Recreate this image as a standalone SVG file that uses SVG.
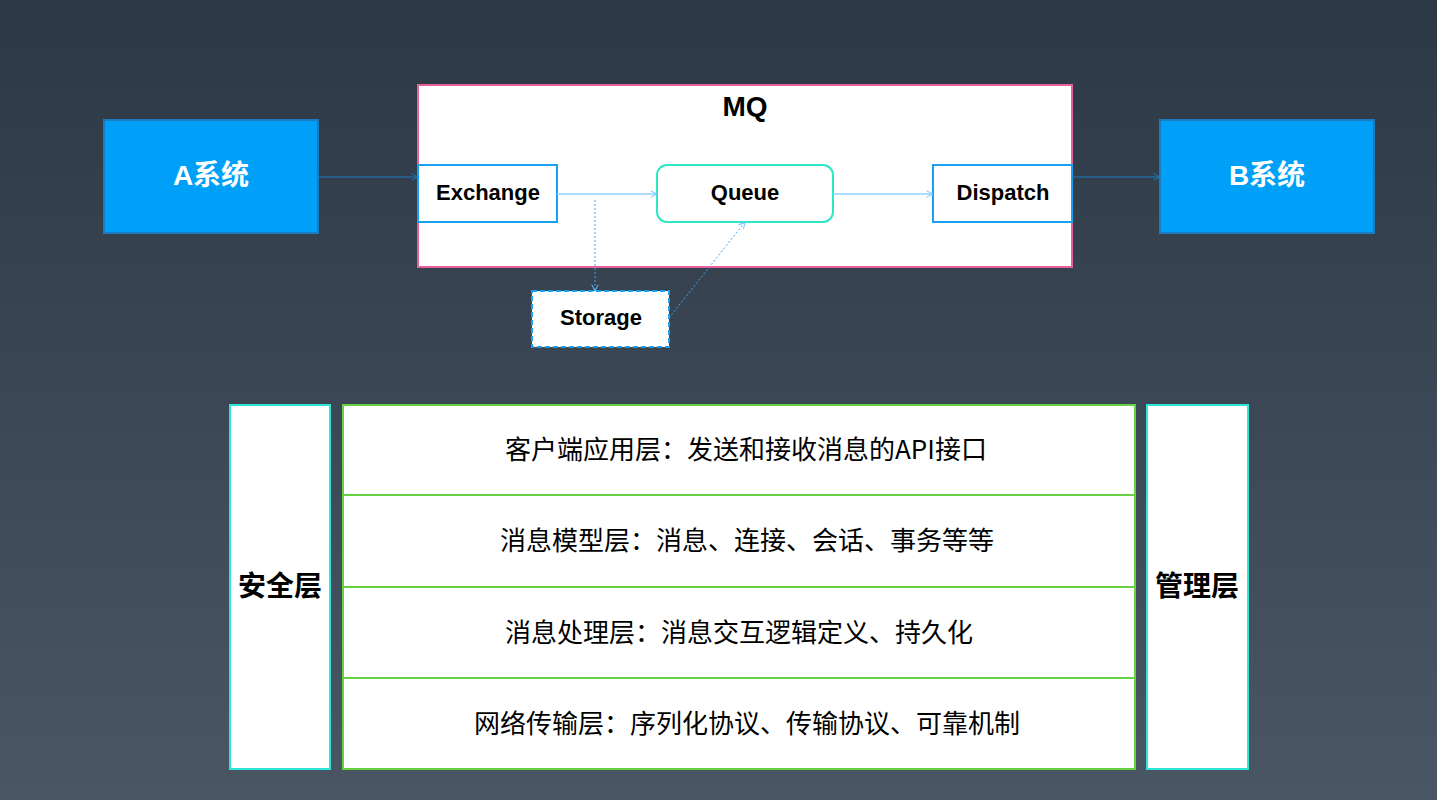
<svg xmlns="http://www.w3.org/2000/svg" width="1437" height="800" viewBox="0 0 1437 800">
<defs>
<linearGradient id="bg" x1="0" y1="0" x2="0" y2="1">
<stop offset="0" stop-color="#2d3845"/>
<stop offset="1" stop-color="#4a5664"/>
</linearGradient>
<marker id="ahd" viewBox="0 0 10 10" refX="9" refY="5" markerWidth="8" markerHeight="8" orient="auto" markerUnits="userSpaceOnUse">
<path d="M1,1 L9,5 L1,9" fill="none" stroke="#1a7cc0" stroke-width="1.2"/>
</marker>
<marker id="ahl" viewBox="0 0 10 10" refX="9" refY="5" markerWidth="8" markerHeight="8" orient="auto" markerUnits="userSpaceOnUse">
<path d="M1,1 L9,5 L1,9" fill="none" stroke="#6cc6ff" stroke-width="1.2"/>
</marker>
</defs>
<style>
.sys{fill:#00a0f8;stroke:#1a7cc0;stroke-width:2}
.sysT{font-family:"Liberation Sans","Noto Sans CJK SC",sans-serif;font-size:28px;font-weight:bold;fill:#fff;text-anchor:middle;dominant-baseline:central}
.inner{fill:#fff;stroke:#1aa0f0;stroke-width:2}
.lbl{font-family:"Liberation Sans","Noto Sans CJK SC",sans-serif;font-size:22px;font-weight:bold;fill:#000;text-anchor:middle;dominant-baseline:central}
.side{fill:#fff;stroke:#2ee6d8;stroke-width:2}
.sideT{font-family:"Noto Sans CJK SC",sans-serif;font-size:28px;font-weight:bold;fill:#000;text-anchor:middle;dominant-baseline:central}
.row{fill:#fff;stroke:#66d240;stroke-width:2}
.rowT{font-family:"Noto Sans CJK SC",sans-serif;font-size:26px;fill:#000;text-anchor:middle;dominant-baseline:central}
</style>
<rect width="1437" height="800" fill="url(#bg)"/>
<g id="mq">
<rect x="418" y="85" width="654" height="182" fill="#fff" stroke="#e8609a" stroke-width="2"/>
<text class="lbl" x="745" y="106" style="font-size:28px">MQ</text>
</g>
<g id="a-system">
<rect class="sys" x="104" y="120" width="214" height="113"/>
<text class="sysT" x="211" y="175">A系统</text>
</g>
<g id="b-system">
<rect class="sys" x="1160" y="120" width="214" height="113"/>
<text class="sysT" x="1267" y="175">B系统</text>
</g>
<g id="exchange">
<rect class="inner" x="418" y="165" width="139" height="57"/>
<text class="lbl" x="488" y="192">Exchange</text>
</g>
<g id="queue">
<rect x="657" y="165" width="176" height="57" rx="10" fill="#fff" stroke="#2ee6c8" stroke-width="2"/>
<text class="lbl" x="745" y="192">Queue</text>
</g>
<g id="dispatch">
<rect class="inner" x="933" y="165" width="139" height="57"/>
<text class="lbl" x="1003" y="192">Dispatch</text>
</g>
<g id="storage">
<rect x="532" y="291" width="137" height="56" fill="#fff" stroke="#1aa0f0" stroke-width="2" stroke-dasharray="5,3"/>
<text class="lbl" x="601" y="317">Storage</text>
</g>
<g id="connectors" fill="none">
<line x1="318" y1="177" x2="418" y2="177" stroke="#1a7cc0" stroke-width="1.2" marker-end="url(#ahd)"/>
<line x1="1072" y1="177" x2="1160" y2="177" stroke="#1a7cc0" stroke-width="1.2" marker-end="url(#ahd)"/>
<line x1="557" y1="194" x2="657" y2="194" stroke="#8fd3ff" stroke-width="1.5" marker-end="url(#ahl)"/>
<line x1="833" y1="194" x2="933" y2="194" stroke="#8fd3ff" stroke-width="1.5" marker-end="url(#ahl)"/>
<line x1="595" y1="200" x2="595" y2="291" stroke="#3aa8f0" stroke-width="1" stroke-dasharray="2,2" marker-end="url(#ahl)"/>
<line x1="669" y1="318" x2="745" y2="222" stroke="#3aa8f0" stroke-width="1" stroke-dasharray="2,2" marker-end="url(#ahl)"/>
</g>
<g id="security">
<rect class="side" x="230" y="405" width="100" height="364"/>
<text class="sideT" x="280" y="584">安全层</text>
</g>
<g id="layers">
<rect class="row" x="343" y="405" width="792" height="90"/>
<text class="rowT" x="746" y="447">客户端应用层：发送和接收消息的API接口</text>
<rect class="row" x="343" y="495" width="792" height="92"/>
<text class="rowT" x="747" y="538">消息模型层：消息、连接、会话、事务等等</text>
<rect class="row" x="343" y="587" width="792" height="91"/>
<text class="rowT" x="739" y="630">消息处理层：消息交互逻辑定义、持久化</text>
<rect class="row" x="343" y="678" width="792" height="91"/>
<text class="rowT" x="747" y="721">网络传输层：序列化协议、传输协议、可靠机制</text>
</g>
<g id="management">
<rect class="side" x="1147" y="405" width="101" height="364"/>
<text class="sideT" x="1197" y="584">管理层</text>
</g>
</svg>
